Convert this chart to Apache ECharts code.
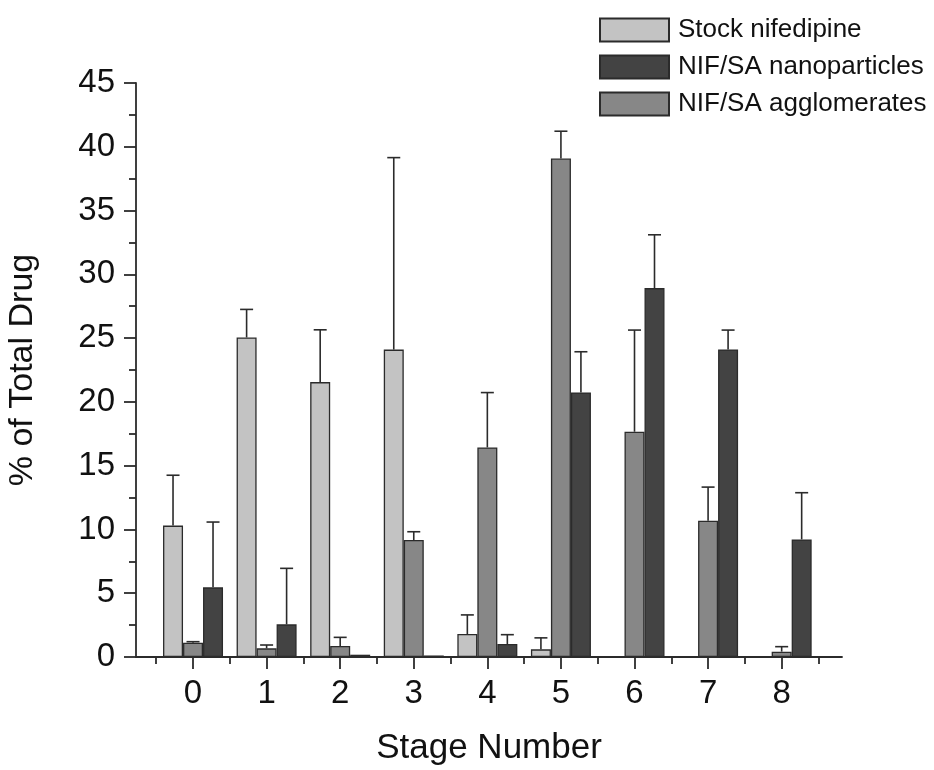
<!DOCTYPE html>
<html>
<head>
<meta charset="utf-8">
<script src="https://cdn.jsdelivr.net/npm/echarts@6/dist/echarts.min.js"></script>
<style>html,body{margin:0;padding:0;background:#fff;}#chart{width:934px;height:770px;}</style>
</head>
<body>
<div id="chart"></div>
<script>
// ---- data ----
const stages = [0, 1, 2, 3, 4, 5, 6, 7, 8];
const seriesNames = ['Stock nifedipine', 'NIF/SA nanoparticles', 'NIF/SA agglomerates'];
const stockMean = [10.3, 25.05, 21.55, 24.1, 1.8, 0.6, 0.05, 0.05, null];
const stockErr  = [3.95, 2.2, 4.1, 15.05, 1.5, 0.9, 0, 0, 0];
const agglMean  = [1.12, 0.68, 0.86, 9.17, 16.43, 39.08, 17.66, 10.68, 0.42];
const agglErr   = [0.08, 0.26, 0.68, 0.65, 4.3, 2.14, 7.97, 2.64, 0.39];
const nanoMean  = [5.46, 2.56, 0.18, 0.12, 1.02, 20.74, 28.92, 24.11, 9.22];
const nanoErr   = [5.12, 4.39, 0, 0, 0.73, 3.19, 4.18, 1.52, 3.66];
const yTicks = [0, 5, 10, 15, 20, 25, 30, 35, 40, 45];
const minorX = [-0.5, 0.5, 1.5, 2.5, 3.5, 4.5, 5.5, 6.5, 7.5, 8.5];

// ---- style ----
const FONT = 'Liberation Sans, Arial, Helvetica, sans-serif';
const BAR_W = 20;
const colors = { stock: '#c3c3c3', aggl: '#878787', nano: '#434343' };
const EDGE = '#2b2b2b';

const chart = echarts.init(document.getElementById('chart'), null, { renderer: 'canvas' });

function barSeries(name, means, color) {
  return {
    name: name, type: 'bar', xAxisIndex: 0, yAxisIndex: 0,
    barWidth: BAR_W, barGap: '0%',
    itemStyle: { color: color, borderColor: EDGE, borderWidth: 1.3 },
    data: stages.map((s, i) => [s, means[i]]),
    z: 2
  };
}
function errSeries(means, errs, slot) {
  return {
    type: 'custom', xAxisIndex: 0, yAxisIndex: 0, z: 3, silent: true,
    encode: { x: 0, y: 1 },
    data: stages.map((s, i) => [s, means[i] == null ? 0 : means[i], errs[i]]),
    renderItem: function (params, api) {
      const e = api.value(2);
      if (!e) return null;
      const x = api.value(0), y = api.value(1);
      const p0 = api.coord([x, y]);
      const p1 = api.coord([x, y + e]);
      const cx = p0[0] + slot * BAR_W;
      const half = 6.5;
      const st = { stroke: '#2b2b2b', lineWidth: 1.6 };
      return {
        type: 'group',
        children: [
          { type: 'line', shape: { x1: cx, y1: p0[1], x2: cx, y2: p1[1] }, style: st },
          { type: 'line', shape: { x1: cx - half, y1: p1[1], x2: cx + half, y2: p1[1] }, style: st }
        ]
      };
    }
  };
}

const option = {
  animation: false,
  backgroundColor: '#ffffff',
  textStyle: { fontFamily: FONT },
  grid: { left: 136, right: 92, top: 83, bottom: 113, containLabel: false, outerBoundsMode: 'none' },
  legend: {
    orient: 'vertical', left: 594, top: 12,
    icon: 'rect',
    itemWidth: 69, itemHeight: 23, itemGap: 11,
    selectedMode: false,
    data: seriesNames,
    textStyle: { fontSize: 26, color: '#111', fontFamily: FONT, padding: [0, 0, 0, 4] }
  },
  xAxis: [
    {
      type: 'value', min: -0.775, max: 8.82, position: 'bottom',
      name: 'Stage Number', nameLocation: 'middle', nameGap: 74,
      nameTextStyle: { fontSize: 35, color: '#111', fontFamily: FONT },
      axisLine: { show: true, onZero: false, lineStyle: { color: '#2b2b2b', width: 1.8 } },
      axisTick: { show: true, customValues: stages, length: 12, lineStyle: { color: '#2b2b2b', width: 1.8 } },
      axisLabel: { show: true, customValues: stages, fontSize: 33, color: '#111', margin: 20, fontFamily: FONT },
      splitLine: { show: false }
    },
    {
      type: 'value', min: -0.775, max: 8.82, position: 'bottom', offset: 0,
      axisLine: { show: false, onZero: false },
      axisTick: { show: true, customValues: minorX, length: 7, lineStyle: { color: '#2b2b2b', width: 1.8 } },
      axisLabel: { show: false },
      splitLine: { show: false }
    }
  ],
  yAxis: {
    type: 'value', min: 0, max: 45, interval: 5,
    name: '% of Total Drug', nameLocation: 'middle', nameGap: 96, nameRotate: 90,
    nameTextStyle: { fontSize: 34, color: '#111', fontFamily: FONT },
    axisLine: { show: true, onZero: false, lineStyle: { color: '#2b2b2b', width: 1.8 } },
    axisTick: { show: true, length: 12, lineStyle: { color: '#2b2b2b', width: 1.8 } },
    minorTick: { show: true, splitNumber: 2, length: 7, lineStyle: { color: '#2b2b2b', width: 1.8 } },
    axisLabel: {
      fontSize: 33, color: '#111', margin: 21, fontFamily: FONT,
      customValues: yTicks
    },
    splitLine: { show: false }
  },
  series: [
    barSeries(seriesNames[0], stockMean, colors.stock),
    barSeries(seriesNames[2], agglMean, colors.aggl),
    barSeries(seriesNames[1], nanoMean, colors.nano),
    errSeries(stockMean, stockErr, -1),
    errSeries(agglMean, agglErr, 0),
    errSeries(nanoMean, nanoErr, 1)
  ]
};
chart.setOption(option);
</script>
</body>
</html>
